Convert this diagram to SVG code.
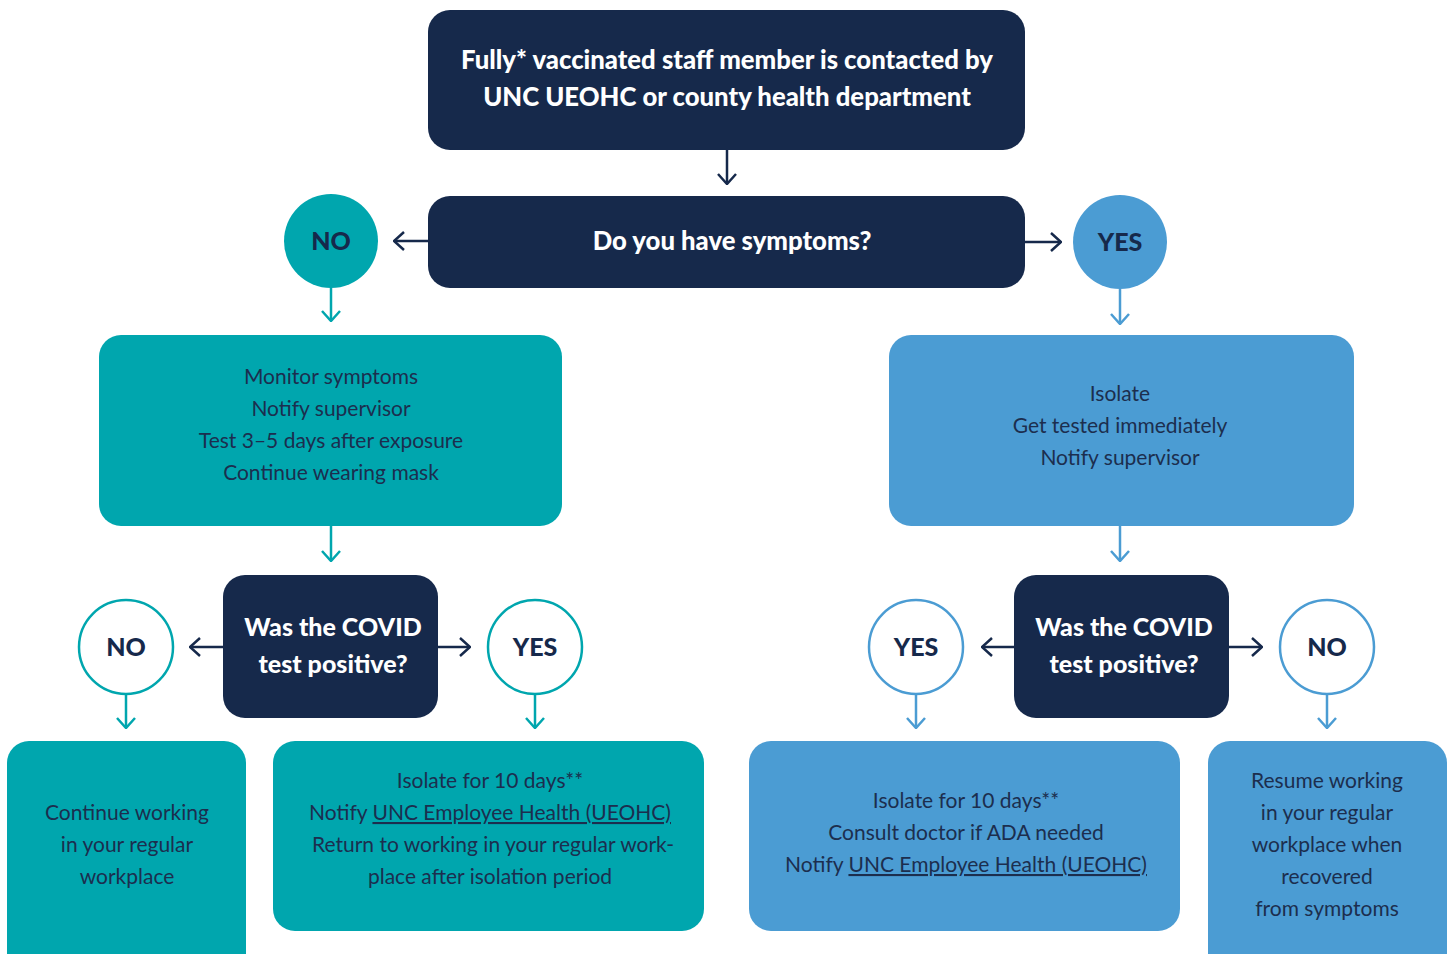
<svg xmlns="http://www.w3.org/2000/svg" width="1452" height="954" viewBox="0 0 1452 954">
<defs>
<style>
.navy{fill:#16294b}
.teal{fill:#00a6ae}
.blue{fill:#4b9cd3}
.ot{fill:#fff;stroke:#00a6ae;stroke-width:2.5}
.ob{fill:#fff;stroke:#4b9cd3;stroke-width:2.5}
.h{font-family:Lato,"Open Sans",sans-serif;font-weight:900;fill:#fff;text-anchor:middle}
.c{font-family:Lato,"Open Sans",sans-serif;font-weight:900;fill:#16294b;text-anchor:middle;font-size:25px}
.b{font-family:Lato,"Open Sans",sans-serif;font-weight:400;fill:#1c2e4e;text-anchor:middle;font-size:21px}
.u{text-decoration:underline}
.cn{fill:none;stroke-width:2.5}
</style>
<marker id="an" viewBox="0 0 12 20" refX="11" refY="10" markerWidth="12" markerHeight="20" markerUnits="userSpaceOnUse" orient="auto"><path d="M1,1 L11,10 L1,19" fill="none" stroke="#16294b" stroke-width="2.5"/></marker>
<marker id="at" viewBox="0 0 12 20" refX="11" refY="10" markerWidth="12" markerHeight="20" markerUnits="userSpaceOnUse" orient="auto"><path d="M1,1 L11,10 L1,19" fill="none" stroke="#00a6ae" stroke-width="2.5"/></marker>
<marker id="ab" viewBox="0 0 12 20" refX="11" refY="10" markerWidth="12" markerHeight="20" markerUnits="userSpaceOnUse" orient="auto"><path d="M1,1 L11,10 L1,19" fill="none" stroke="#4b9cd3" stroke-width="2.5"/></marker>
</defs>
<rect width="1452" height="954" fill="#fff"/>
<g id="connectors">
<path class="cn" stroke="#16294b" marker-end="url(#an)" d="M727,150 V184"/>
<path class="cn" stroke="#16294b" marker-end="url(#an)" d="M428,241 H394"/>
<path class="cn" stroke="#16294b" marker-end="url(#an)" d="M1025,242 H1061"/>
<path class="cn" stroke="#00a6ae" marker-end="url(#at)" d="M331,288 V321"/>
<path class="cn" stroke="#4b9cd3" marker-end="url(#ab)" d="M1120,289 V324"/>
<path class="cn" stroke="#00a6ae" marker-end="url(#at)" d="M331,526 V561"/>
<path class="cn" stroke="#4b9cd3" marker-end="url(#ab)" d="M1120,526 V561"/>
<path class="cn" stroke="#16294b" marker-end="url(#an)" d="M223,647 H190"/>
<path class="cn" stroke="#16294b" marker-end="url(#an)" d="M438,647 H470"/>
<path class="cn" stroke="#16294b" marker-end="url(#an)" d="M1014,647 H982"/>
<path class="cn" stroke="#16294b" marker-end="url(#an)" d="M1229,647 H1262"/>
<path class="cn" stroke="#00a6ae" marker-end="url(#at)" d="M126,694 V728"/>
<path class="cn" stroke="#00a6ae" marker-end="url(#at)" d="M535,694 V728"/>
<path class="cn" stroke="#4b9cd3" marker-end="url(#ab)" d="M916,694 V728"/>
<path class="cn" stroke="#4b9cd3" marker-end="url(#ab)" d="M1327,694 V728"/>
</g>
<g id="start">
<rect class="navy" x="428" y="10" width="597" height="140" rx="22"/>
<text class="h" font-size="25.7" x="727" y="69">Fully* vaccinated staff member is contacted by</text>
<text class="h" font-size="25.7" x="727" y="106">UNC UEOHC or county health department</text>
</g>
<g id="symptoms">
<rect class="navy" x="428" y="196" width="597" height="92" rx="22"/>
<text class="h" font-size="25.7" x="732" y="250">Do you have symptoms?</text>
</g>
<g id="no1">
<circle class="teal" cx="331" cy="241" r="47"/>
<text class="c" x="331" y="250">NO</text>
</g>
<g id="yes1">
<circle class="blue" cx="1120" cy="242" r="47"/>
<text class="c" x="1120" y="251">YES</text>
</g>
<g id="monitor">
<rect class="teal" x="99" y="335" width="463" height="191" rx="22"/>
<text class="b" x="331" y="384">Monitor symptoms</text>
<text class="b" x="331" y="416">Notify supervisor</text>
<text class="b" x="331" y="448">Test 3–5 days after exposure</text>
<text class="b" x="331" y="480">Continue wearing mask</text>
</g>
<g id="isolate">
<rect class="blue" x="889" y="335" width="465" height="191" rx="22"/>
<text class="b" x="1120" y="401">Isolate</text>
<text class="b" x="1120" y="433">Get tested immediately</text>
<text class="b" x="1120" y="465">Notify supervisor</text>
</g>
<g id="test-left">
<rect class="navy" x="223" y="575" width="215" height="143" rx="22"/>
<text class="h" font-size="25" x="333" y="636">Was the COVID</text>
<text class="h" font-size="25" x="333" y="673">test positive?</text>
</g>
<g id="test-right">
<rect class="navy" x="1014" y="575" width="215" height="143" rx="22"/>
<text class="h" font-size="25" x="1124" y="636">Was the COVID</text>
<text class="h" font-size="25" x="1124" y="673">test positive?</text>
</g>
<g id="no2">
<circle class="ot" cx="126" cy="647" r="47"/>
<text class="c" x="126" y="656">NO</text>
</g>
<g id="yes2">
<circle class="ot" cx="535" cy="647" r="47"/>
<text class="c" x="535" y="656">YES</text>
</g>
<g id="yes3">
<circle class="ob" cx="916" cy="647" r="47"/>
<text class="c" x="916" y="656">YES</text>
</g>
<g id="no3">
<circle class="ob" cx="1327" cy="647" r="47"/>
<text class="c" x="1327" y="656">NO</text>
</g>
<g id="continue">
<rect class="teal" x="7" y="741" width="239" height="240" rx="22"/>
<text class="b" x="127" y="820">Continue working</text>
<text class="b" x="127" y="852">in your regular</text>
<text class="b" x="127" y="884">workplace</text>
</g>
<g id="isolate-left">
<rect class="teal" x="273" y="741" width="431" height="190" rx="22"/>
<text class="b" x="490" y="788">Isolate for 10 days**</text>
<text class="b" x="490" y="820">Notify <tspan class="u">UNC Employee Health (UEOHC)</tspan></text>
<text class="b" x="493" y="852">Return to working in your regular work-</text>
<text class="b" x="490" y="884">place after isolation period</text>
</g>
<g id="isolate-right">
<rect class="blue" x="749" y="741" width="431" height="190" rx="22"/>
<text class="b" x="966" y="808">Isolate for 10 days**</text>
<text class="b" x="966" y="840">Consult doctor if ADA needed</text>
<text class="b" x="966" y="872">Notify <tspan class="u">UNC Employee Health (UEOHC)</tspan></text>
</g>
<g id="resume">
<rect class="blue" x="1208" y="741" width="239" height="240" rx="22"/>
<text class="b" x="1327" y="788">Resume working</text>
<text class="b" x="1327" y="820">in your regular</text>
<text class="b" x="1327" y="852">workplace when</text>
<text class="b" x="1327" y="884">recovered</text>
<text class="b" x="1327" y="916">from symptoms</text>
</g>
</svg>
